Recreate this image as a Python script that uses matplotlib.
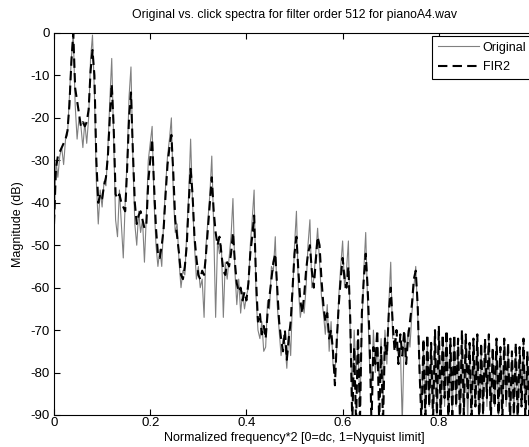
import matplotlib
matplotlib.use("Agg")
import matplotlib.pyplot as plt
import numpy as np

# frequency bins (normalized, 0 = dc, 1 = Nyquist)
freq = np.linspace(0, 1, 251)

# FIR2 magnitude (dB), rows of 10 bins
fir2_db = [
    -45, -32, -29, -28, -27, -26, -25, -23, -17, -7,
    0, -13, -16, -19, -22, -21, -22, -21, -18, -9,
    -4, -10, -30, -40, -38, -39, -36, -34, -29, -20,
    -12, -22, -38, -39, -38, -40, -41, -42, -32, -20,
    -14, -28, -40, -45, -43, -42, -44, -46, -45, -35,
    -30, -25, -36, -46, -52, -53, -50, -46, -38, -31,
    -27, -24, -33, -44, -48, -52, -57, -58, -55, -50,
    -40, -32, -38, -48, -53, -57, -58, -56, -57, -52,
    -46, -40, -34, -42, -47, -50, -48, -52, -56, -57,
    -54, -55, -52, -47, -54, -59, -61, -60, -63, -61,
    -63, -59, -52, -48, -43, -58, -68, -66, -71, -69,
    -72, -66, -62, -58, -54, -52, -60, -68, -72, -75,
    -70, -77, -72, -68, -60, -52, -48, -56, -63, -66,
    -62, -56, -52, -50, -56, -60, -54, -48, -50, -58,
    -64, -68, -66, -72, -70, -75, -83, -72, -64, -58,
    -53, -58, -60, -55, -68, -92, -74, -92, -70, -92,
    -66, -58, -52, -60, -72, -92, -74, -78, -70, -92,
    -74, -92, -72, -76, -66, -60, -68, -75, -70, -78,
    -71, -76, -70, -78, -72, -68, -64, -58, -56, -64,
    -80, -92, -72, -92, -71, -88, -73, -92, -70, -90,
    -69, -92, -71, -86, -70, -92, -72, -90, -71, -88,
    -72, -92, -70, -90, -71, -86, -73, -92, -72, -88,
    -71, -92, -73, -90, -72, -86, -71, -92, -74, -88,
    -72, -90, -74, -92, -72, -87, -73, -92, -75, -90,
    -73, -92, -74, -88, -72, -92, -75, -90, -73, -92,
    -74,
]

# Original magnitude (dB)
orig_db = [
    -48, -30, -34, -29, -27, -31, -25, -24, -15, -6,
    0, -17, -25, -20, -22, -27, -21, -26, -20, -6,
    -0.5, -14, -35, -45, -37, -41, -35, -36, -27, -16,
    -6, -25, -44, -48, -37, -45, -53, -40, -30, -15,
    -8, -30, -45, -50, -42, -47, -44, -54, -43, -30,
    -26, -22, -40, -50, -55, -51, -55, -44, -36, -29,
    -25, -20, -38, -47, -45, -54, -60, -56, -57, -47,
    -38, -25, -40, -50, -58, -55, -60, -58, -67, -50,
    -44, -38, -29, -46, -67, -49, -52, -50, -67, -54,
    -58, -53, -48, -39, -56, -64, -58, -66, -61, -65,
    -62, -60, -50, -44, -37, -62, -70, -72, -68, -75,
    -74, -63, -65, -55, -56, -48, -64, -70, -76, -72,
    -73, -79, -70, -76, -62, -50, -42, -60, -67, -64,
    -66, -60, -50, -44, -60, -58, -52, -46, -54, -62,
    -66, -71, -64, -75, -68, -78, -80, -74, -62, -55,
    -49, -60, -56, -49, -72, -86, -70, -80, -74, -88,
    -70, -56, -47, -64, -78, -84, -70, -80, -74, -82,
    -72, -86, -70, -78, -64, -54, -72, -72, -74, -76,
    -74, -92, -72, -76, -70, -74, -66, -60, -55, -66,
    -79, -90, -73, -92, -72, -88, -74, -92, -71, -90,
    -70, -92, -72, -88, -71, -92, -73, -90, -72, -88,
    -73, -92, -71, -90, -72, -92, -74, -92, -73, -88,
    -72, -92, -74, -90, -73, -88, -72, -92, -75, -88,
    -73, -90, -75, -92, -73, -88, -74, -92, -76, -90,
    -74, -92, -75, -88, -73, -92, -76, -90, -74, -92,
    -75,
]

plt.rcParams['font.family'] = ['Liberation Sans', 'DejaVu Sans']
plt.rcParams['axes.unicode_minus'] = False

fig = plt.figure(figsize=(5.29, 4.47), dpi=100)
ax = fig.add_axes([0.1021, 0.0716, 0.9093, 0.8546])

ax.plot(freq, orig_db, color='#808080', linewidth=0.8, label='Original')
ax.plot(freq, fir2_db, color='black', linewidth=1.5, linestyle=(0, (4.5, 2.5)), label='FIR2')

ax.set_xlim(0, 1)
ax.set_ylim(-90, 0)
ax.set_xticks([0, 0.2, 0.4, 0.6, 0.8, 1.0])
ax.set_xticklabels(['0', '0.2', '0.4', '0.6', '0.8', ''])
ax.set_yticks(np.arange(-90, 1, 10))
ax.tick_params(direction='in', top=True, right=True, labelsize=9.5, length=4, width=0.8)
ax.tick_params(axis='x', pad=1.5)
ax.tick_params(axis='y', pad=3)
for s in ax.spines.values():
    s.set_linewidth(0.8)

ax.set_title('Original vs. click spectra for filter order 512 for pianoA4.wav', fontsize=8.8, pad=11)
ax.set_xlabel('Normalized frequency*2 [0=dc, 1=Nyquist limit]', fontsize=9, labelpad=2)
ax.set_ylabel('Magnitude (dB)', fontsize=9, labelpad=5)

leg = ax.legend(loc='upper left', bbox_to_anchor=(0.786, 0.992), fontsize=9,
                fancybox=False, framealpha=1, edgecolor='black', borderaxespad=0,
                handlelength=3.3, handletextpad=0.3, labelspacing=0.6, borderpad=0.45)
leg.get_frame().set_linewidth(0.8)

fig.savefig('out.png', dpi=100)
